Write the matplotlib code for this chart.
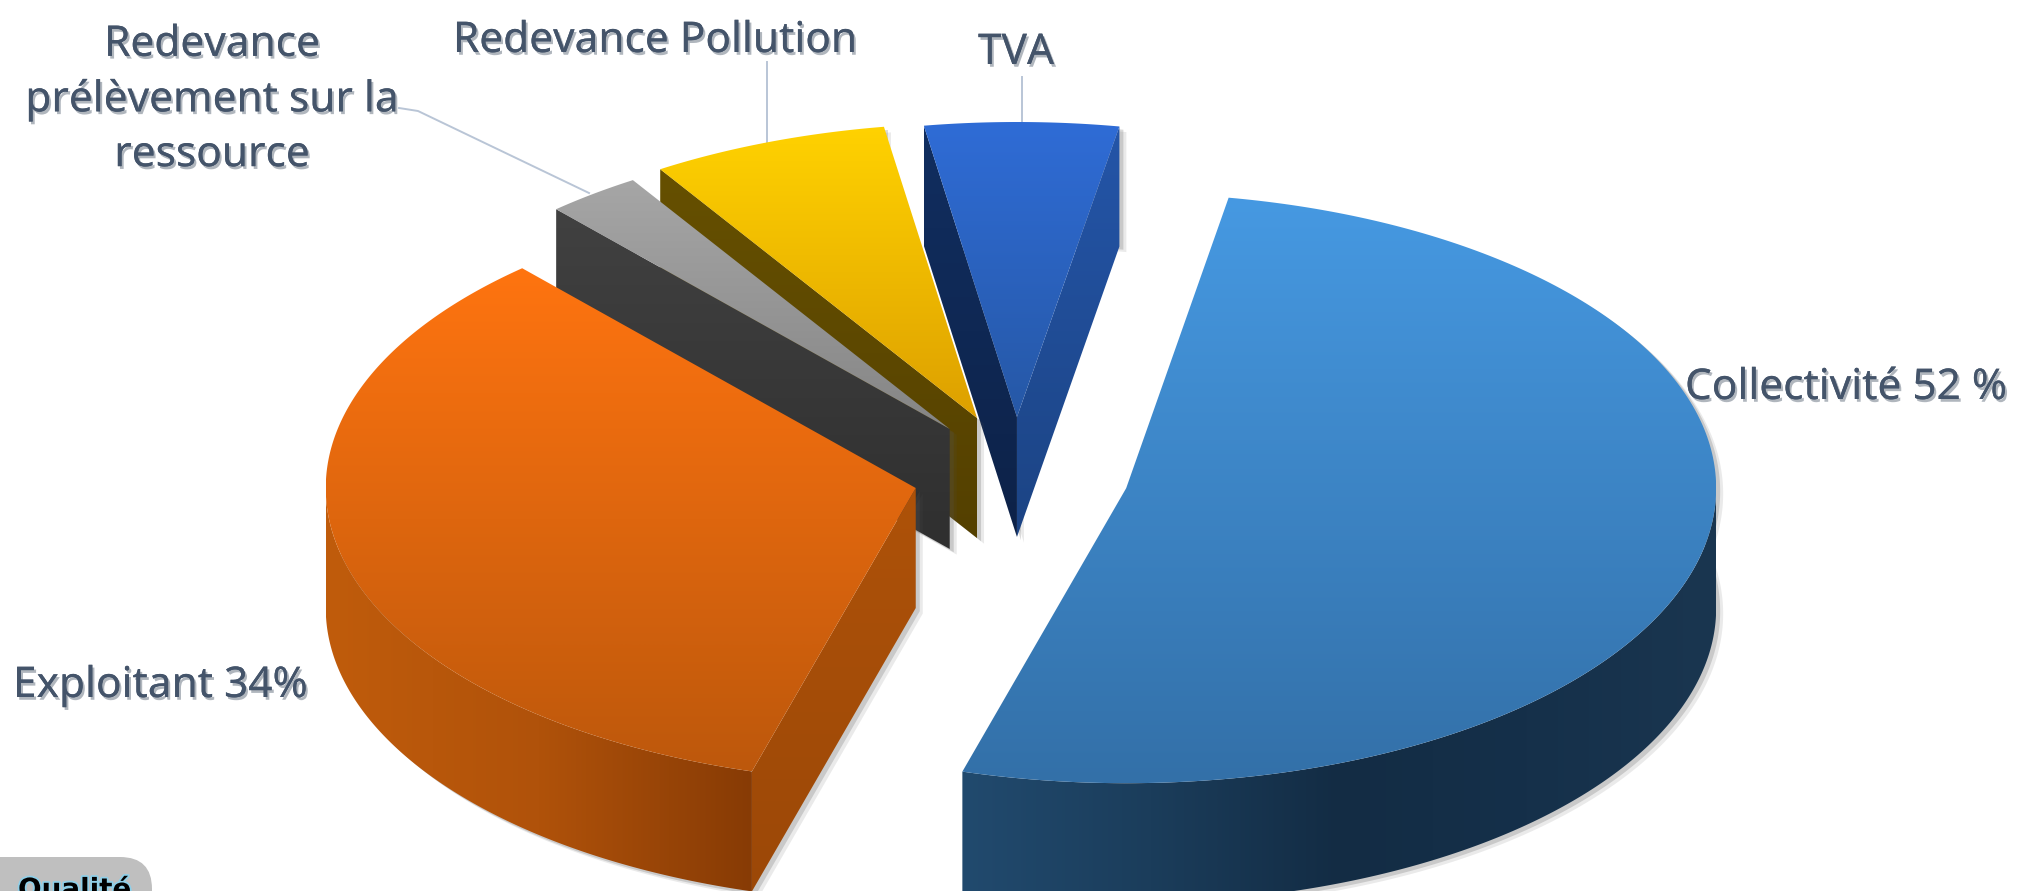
import numpy as np
import matplotlib
matplotlib.use("Agg")
import matplotlib.pyplot as plt
from matplotlib.colors import LinearSegmentedColormap
from matplotlib.patches import Polygon, FancyBboxPatch
import matplotlib.patheffects as pe

# ---- data ----
categories = ["Collectivité", "Exploitant", "Redevance\nprélèvement sur la\nressource",
              "Redevance Pollution", "TVA"]
values = [51.7, 33.9, 2.6, 6.5, 5.3]
value_labels = ["52 %", "34%", "", "", ""]
explode = [0.183, 0.183, 0.2, 0.21, 0.2]
nudge_x = [0, 0, 0, 0, -5]
top_colors = [("#4699E2", "#3370A8"), ("#FF7410", "#BD580C"), ("#A6A6A6", "#858585"),
              ("#FFD200", "#DDA000"), ("#2F6CD6", "#2658A6")]
rim_colors = [("#214A6E", "#1B3D5B", "#132C44", "#15304A", "#1A3650"),
              ("#C05C0C", "#B0520A", "#873B05"), None, None, None]
start_wall_colors = [None, ("#AE5209", "#9C4807"), None, None, ("#112E60", "#0D2248")]
end_wall_colors = [None, None, ("#414141", "#2F2F2F"), ("#665000", "#544000"), ("#2455A8", "#1C4484")]

START = 10.0
CX, CY = 1021, 476
RX, RY = 590, 295
DEPTH = 120

fig = plt.figure(figsize=(20.18, 8.91), dpi=100)
ax = fig.add_axes([0, 0, 1, 1])
ax.set_xlim(0, 2018)
ax.set_ylim(891, 0)
ax.axis("off")


def gradient(pts, stops, horizontal=False, z=2):
    pts = np.asarray(pts)
    x0, x1, y0, y1 = pts[:, 0].min(), pts[:, 0].max(), pts[:, 1].min(), pts[:, 1].max()
    cmap = LinearSegmentedColormap.from_list("g", list(stops))
    ramp = np.linspace(0, 1, 256)
    arr = ramp[None, :] if horizontal else ramp[:, None]
    im = ax.imshow(arr, cmap=cmap, extent=(x0, x1, y1, y0), aspect="auto",
                   origin="upper", zorder=z, interpolation="bilinear")
    patch = Polygon(pts, closed=True, transform=ax.transData, fc="none", ec="none")
    ax.add_patch(patch)
    im.set_clip_path(patch)
    return im


def pt(cx, cy, deg):
    a = np.radians(deg)
    return cx + RX * np.sin(a), cy - RY * np.cos(a)


bounds = START + np.concatenate([[0], np.cumsum(values)]) * 3.6
z = 2
for i in [4, 3, 2, 1, 0]:
    a0, a1 = bounds[i], bounds[i + 1]
    mid = np.radians((a0 + a1) / 2)
    cx = CX + explode[i] * RX * np.sin(mid) + nudge_x[i]
    cy = CY - explode[i] * RY * np.cos(mid)
    th = np.linspace(a0, a1, 240)
    arc = np.column_stack(pt(cx, cy, th))
    top = np.vstack([[cx, cy], arc])

    # soft shadow
    low = arc + [0, DEPTH]
    hull = np.vstack([[cx, cy + DEPTH], low, arc[::-1], [[cx, cy]]])
    for off, al in ((7, 0.12), (4, 0.22)):
        ax.add_patch(Polygon(hull + [off, off * 0.8], closed=True, fc="#555555", ec="none",
                             alpha=al, zorder=z))
    z += 1

    # outer rim: only the part of the arc in front (90..270 degrees)
    lo, hi = max(a0, 90), min(a1, 270)
    if hi > lo and rim_colors[i]:
        rim = np.column_stack(pt(cx, cy, np.linspace(lo, hi, 200)))
        poly = np.vstack([rim, (rim + [0, DEPTH])[::-1]])
        gradient(poly, rim_colors[i], horizontal=True, z=z)
        z += 1

    # radial walls that face the viewer
    p0, p1 = np.array(pt(cx, cy, a0)), np.array(pt(cx, cy, a1))
    c = np.array([cx, cy])
    if end_wall_colors[i]:
        # for the small wedges these walls are seen on the right of the wedge
        pass
    if start_wall_colors[i]:
        wall = np.array([c, p0, p0 + [0, DEPTH], c + [0, DEPTH]])
        gradient(wall, start_wall_colors[i], z=z)
        z += 1
    if end_wall_colors[i]:
        p = p1 if i == 4 else p0
        wall = np.array([c, p, p + [0, DEPTH], c + [0, DEPTH]])
        gradient(wall, end_wall_colors[i], z=z)
        z += 1

    gradient(top, top_colors[i], z=z)
    z += 1

shadow = [pe.withSimplePatchShadow(offset=(1.5, -2), shadow_rgbFace="#6f7a88", alpha=0.55),
          pe.Normal()]
kw = dict(color="#44546A", fontsize=30.5, family="Noto Sans", path_effects=shadow, zorder=100)
ax.text(212, 100, categories[2], ha="center", va="center", linespacing=1.4, **kw)
ax.text(655, 41, categories[3], ha="center", va="center", **kw)
ax.text(1016, 53, categories[4], ha="center", va="center", **kw)
ax.text(1685, 388, f"{categories[0]} {value_labels[0]}", ha="left", va="center", **kw)
ax.text(13, 686, f"{categories[1]} {value_labels[1]}", ha="left", va="center", **kw)

line = dict(color="#B9C5D6", lw=1.4, zorder=1)
ax.plot([399, 418, 589], [108, 111, 193], **line)
ax.plot([767, 767], [62, 144], **line)
ax.plot([1022, 1022], [77, 124], **line)

ax.add_patch(FancyBboxPatch((-40, 857), 192, 80, boxstyle="round,pad=0,rounding_size=32",
                            fc="#BFBFBF", ec="none", zorder=90, clip_on=True))
ax.text(18, 898, "Qualité", ha="left", va="baseline", fontsize=20, fontweight="bold",
        color="black", family="DejaVu Sans", zorder=91,
        path_effects=[pe.withStroke(linewidth=2.5, foreground="#8fcfe8")])

fig.savefig("out.png", dpi=100, facecolor="white")
